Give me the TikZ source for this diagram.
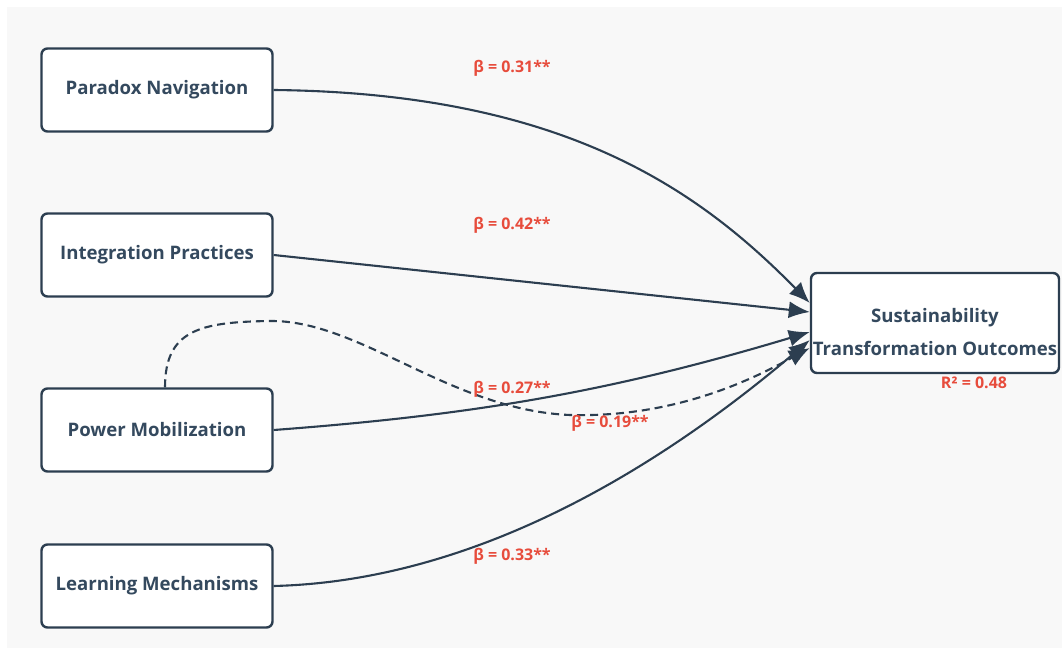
\documentclass[tikz,border=0pt]{standalone}
\usepackage{fontspec}
\setmainfont{Open Sans}
\usetikzlibrary{arrows.meta}

\definecolor{boxline}{HTML}{2C3E50}
\definecolor{boxtext}{HTML}{34495E}
\definecolor{coefred}{HTML}{E74C3C}
\definecolor{canvas}{HTML}{F8F8F8}

\tikzset{
  var/.style={draw=boxline, line width=2.4pt, rounded corners=6pt, fill=white,
    minimum width=231pt, minimum height=83pt, inner sep=0pt, align=center,
    text=boxtext, font=\fontsize{18.6}{33}\selectfont\bfseries},
  link/.style={draw=boxline, line width=2.1pt, -{Latex[length=21pt,width=17pt]}},
  coef/.style={text=coefred, font=\fontsize{16}{18}\selectfont\bfseries}
}

\begin{document}
\begin{tikzpicture}[x=1pt, y=-1pt]
\useasboundingbox (0,0) rectangle (1062,655);
\fill [canvas] (7,7) rectangle (1062,648);

% predictors
\node [var] (pn) at (157,90) {Paradox Navigation};
\node [var] (ip) at (157,255) {Integration Practices};
\node [var] (pm) at (157,430) {Power Mobilization};
\node [var] (lm) at (157,586) {Learning Mechanisms};

% outcome
\node [var, minimum width=248pt, minimum height=100pt] (sto) at (935,323) {};
\node [text=boxtext, font=\fontsize{18.6}{33}\selectfont\bfseries, align=center, inner sep=0pt]
  (stotext) at ([yshift=-9pt]sto.center) {Sustainability\\Transformation Outcomes};

% paths
\draw [link] (pn.east) .. controls +(290,3) and +(-111,-113) .. ([yshift=20pt]sto.west);
\draw [link] (ip.east) -- ([yshift=11pt]sto.west);
\draw [link] (pm.east) .. controls +(200,-15) and +(-200,60) .. ([yshift=-9pt]sto.west);
\draw [link] (lm.east) .. controls +(200,-5) and +(-153,130) .. ([yshift=-17pt]sto.west);
\draw [link, dash pattern=on 8pt off 5pt] ([xshift=8pt]pm.north)
  .. controls (165,330) and (200,322) .. (270,321)
  .. controls (360,320) and (450,410) .. (570,415)
  .. controls (680,418) and (760,375) .. ([yshift=-25pt]sto.west);

% coefficients
\node [coef] (b1) at (512,68) {β = 0.31**};
\node [coef] (b2) at (512,225) {β = 0.42**};
\node [coef] (b3) at (512,389) {β = 0.27**};
\node [coef] (b4) at (610,423) {β = 0.19**};
\node [coef] (b5) at (512,556) {β = 0.33**};
\node [coef] (r2) at (974,383) {R² = 0.48};
\end{tikzpicture}
\end{document}
